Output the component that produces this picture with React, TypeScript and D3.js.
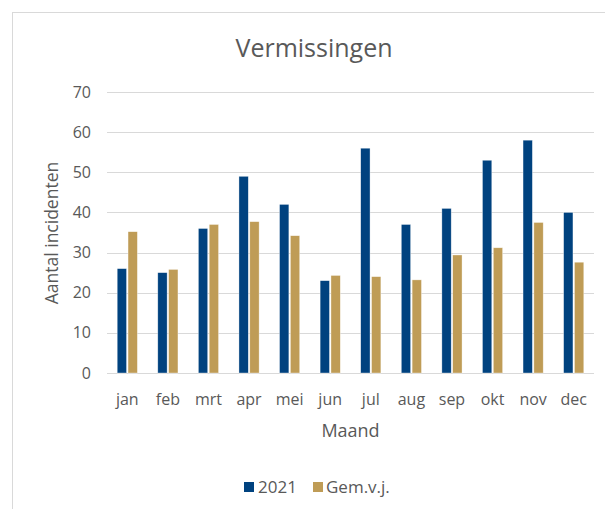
import * as d3 from 'd3'

const WIDTH = 605
const HEIGHT = 509
const MARGIN = { top: 92, right: 11, bottom: 136, left: 107 }

const months = ['jan', 'feb', 'mrt', 'apr', 'mei', 'jun', 'jul', 'aug', 'sep', 'okt', 'nov', 'dec']
const series2021 = [26, 25, 36, 49, 42, 23, 56, 37, 41, 53, 58, 40]
const seriesGem = [35.2, 25.8, 37.0, 37.7, 34.2, 24.3, 24.0, 23.2, 29.4, 31.2, 37.5, 27.6]
const seriesNames = ['2021', 'Gem.v.j.']
const yTicks = [0, 10, 20, 30, 40, 50, 60, 70]

const COLORS = ['#00427f', '#bf9c56']
const FONT = '"Open Sans", sans-serif'
const TEXT = '#595959'
const GRID = '#d9d9d9'

export default function App() {
  const innerW = WIDTH - MARGIN.left - MARGIN.right
  const innerH = HEIGHT - MARGIN.top - MARGIN.bottom

  const x = d3.scaleBand<string>().domain(months).range([0, innerW]).paddingInner(0).paddingOuter(0)
  const y = d3.scaleLinear().domain([0, 70]).range([innerH, 0])

  // two bars per month, roughly half of the band in total
  const barW = x.bandwidth() * 0.23
  const gap = 1.5
  const series = [series2021, seriesGem]

  return (
    <svg
      width={WIDTH}
      height={HEIGHT}
      style={{ position: 'absolute', left: 0, top: 0, background: '#fff' }}
      fontFamily={FONT}
    >
      {/* chart frame, cut off at right and bottom */}
      <rect x={12.5} y={12.5} width={WIDTH + 10} height={HEIGHT + 10} fill="#fff" stroke="#d9d9d9" strokeWidth={1} />

      <text x={314} y={57} textAnchor="middle" fontSize={25} fill={TEXT}>Vermissingen</text>

      <g transform={`translate(${MARGIN.left},${MARGIN.top})`}>
        {yTicks.map(t => (
          <g key={t}>
            <line x1={0} x2={innerW} y1={Math.round(y(t)) + 0.5} y2={Math.round(y(t)) + 0.5} stroke={GRID} strokeWidth={1} />
            <text x={-16} y={y(t)} dy="0.35em" textAnchor="end" fontSize={16} fill={TEXT}>{t}</text>
          </g>
        ))}

        {months.map((m, i) => {
          const cx = (x(m) ?? 0) + x.bandwidth() / 2
          return (
            <g key={m}>
              {series.map((s, k) => {
                const bx = k === 0 ? cx - gap / 2 - barW : cx + gap / 2
                return (
                  <rect
                    key={k}
                    x={bx}
                    y={y(s[i])}
                    width={barW}
                    height={innerH - y(s[i])}
                    fill={COLORS[k]}
                    stroke="#ffffff"
                    strokeOpacity={0.6}
                    strokeWidth={0.6}
                  />
                )
              })}
              <text x={cx} y={innerH + 32} textAnchor="middle" fontSize={16} fill={TEXT}>{m}</text>
            </g>
          )
        })}
      </g>

      <text x={MARGIN.left + innerW / 2} y={437} textAnchor="middle" fontSize={18} fill={TEXT}>Maand</text>

      <text
        transform={`translate(58,233) rotate(-90)`}
        textAnchor="middle"
        fontSize={17.5}
        fill={TEXT}
      >
        Aantal incidenten
      </text>

      {/* legend */}
      <g>
        <rect x={244} y={482} width={10} height={10} fill={COLORS[0]} />
        <text x={258} y={493} fontSize={17} fill={TEXT}>{seriesNames[0]}</text>
        <rect x={313} y={482} width={10} height={10} fill={COLORS[1]} />
        <text x={326} y={493} fontSize={17} fill={TEXT}>{seriesNames[1]}</text>
      </g>
    </svg>
  )
}
